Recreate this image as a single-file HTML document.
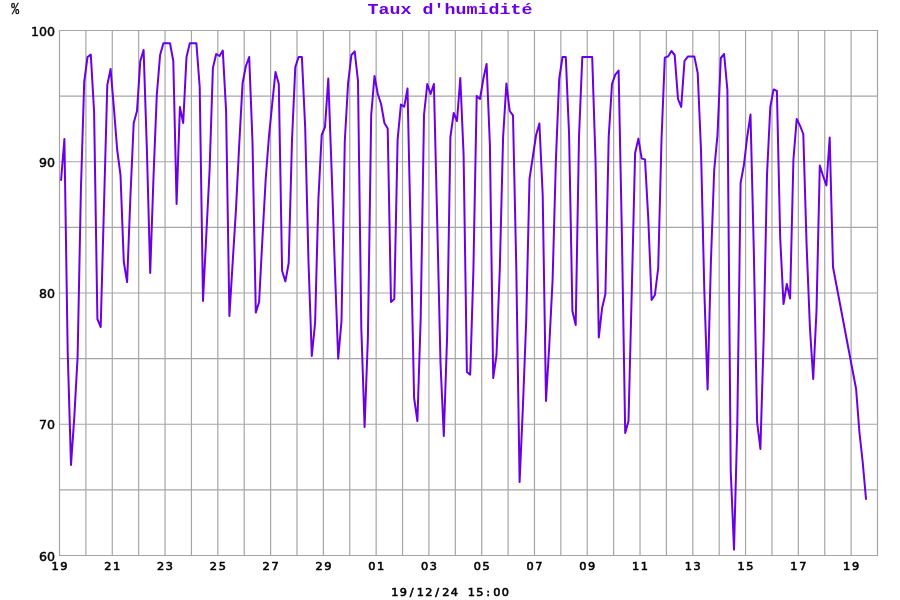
<!DOCTYPE html>
<html lang="fr"><head><meta charset="utf-8"><title>Taux d'humidité</title>
<style>
html,body{margin:0;padding:0;background:#fff;}
body{width:900px;height:600px;overflow:hidden;position:relative;}
svg{position:absolute;left:0;top:0;display:block;will-change:transform;}
.t{font-family:"Liberation Mono","DejaVu Sans Mono",monospace;font-weight:bold;}
.y{font-family:"DejaVu Sans","Liberation Sans",sans-serif;font-size:12.6px;fill:#000;stroke:#000;stroke-width:0.45px;}
.x{font-family:"DejaVu Sans","Liberation Sans",sans-serif;font-size:11.3px;fill:#000;stroke:#000;stroke-width:0.6px;}
</style></head><body>
<svg width="900" height="600" viewBox="0 0 900 600">

<g stroke="#a6a6a6" stroke-width="1.2" fill="none">
<line x1="59.50" y1="30.0" x2="59.50" y2="556.0"/>
<line x1="85.89" y1="30.0" x2="85.89" y2="556.0"/>
<line x1="112.27" y1="30.0" x2="112.27" y2="556.0"/>
<line x1="138.66" y1="30.0" x2="138.66" y2="556.0"/>
<line x1="165.05" y1="30.0" x2="165.05" y2="556.0"/>
<line x1="191.44" y1="30.0" x2="191.44" y2="556.0"/>
<line x1="217.82" y1="30.0" x2="217.82" y2="556.0"/>
<line x1="244.21" y1="30.0" x2="244.21" y2="556.0"/>
<line x1="270.60" y1="30.0" x2="270.60" y2="556.0"/>
<line x1="296.98" y1="30.0" x2="296.98" y2="556.0"/>
<line x1="323.37" y1="30.0" x2="323.37" y2="556.0"/>
<line x1="349.76" y1="30.0" x2="349.76" y2="556.0"/>
<line x1="376.15" y1="30.0" x2="376.15" y2="556.0"/>
<line x1="402.53" y1="30.0" x2="402.53" y2="556.0"/>
<line x1="428.92" y1="30.0" x2="428.92" y2="556.0"/>
<line x1="455.31" y1="30.0" x2="455.31" y2="556.0"/>
<line x1="481.69" y1="30.0" x2="481.69" y2="556.0"/>
<line x1="508.08" y1="30.0" x2="508.08" y2="556.0"/>
<line x1="534.47" y1="30.0" x2="534.47" y2="556.0"/>
<line x1="560.85" y1="30.0" x2="560.85" y2="556.0"/>
<line x1="587.24" y1="30.0" x2="587.24" y2="556.0"/>
<line x1="613.63" y1="30.0" x2="613.63" y2="556.0"/>
<line x1="640.02" y1="30.0" x2="640.02" y2="556.0"/>
<line x1="666.40" y1="30.0" x2="666.40" y2="556.0"/>
<line x1="692.79" y1="30.0" x2="692.79" y2="556.0"/>
<line x1="719.18" y1="30.0" x2="719.18" y2="556.0"/>
<line x1="745.56" y1="30.0" x2="745.56" y2="556.0"/>
<line x1="771.95" y1="30.0" x2="771.95" y2="556.0"/>
<line x1="798.34" y1="30.0" x2="798.34" y2="556.0"/>
<line x1="824.73" y1="30.0" x2="824.73" y2="556.0"/>
<line x1="851.11" y1="30.0" x2="851.11" y2="556.0"/>
<line x1="877.50" y1="30.0" x2="877.50" y2="556.0"/>
<line x1="59.0" y1="30.50" x2="878.0" y2="30.50"/>
<line x1="59.0" y1="96.12" x2="878.0" y2="96.12"/>
<line x1="59.0" y1="161.75" x2="878.0" y2="161.75"/>
<line x1="59.0" y1="227.38" x2="878.0" y2="227.38"/>
<line x1="59.0" y1="293.00" x2="878.0" y2="293.00"/>
<line x1="59.0" y1="358.62" x2="878.0" y2="358.62"/>
<line x1="59.0" y1="424.25" x2="878.0" y2="424.25"/>
<line x1="59.0" y1="489.88" x2="878.0" y2="489.88"/>
<line x1="59.0" y1="555.50" x2="878.0" y2="555.50"/>
</g>
<polyline points="61.1,180.0 64.4,139.0 67.7,352.0 71.0,465.0 74.3,417.0 77.6,357.0 80.9,190.0 84.2,82.0 87.5,57.0 90.8,54.6 94.1,112.0 97.4,319.0 100.7,327.0 104.0,205.0 107.3,85.0 110.6,69.0 113.9,108.0 117.2,150.0 120.5,175.0 123.8,262.0 127.1,282.0 130.4,197.0 133.7,123.0 137.0,111.0 140.3,61.0 143.6,50.0 146.9,150.0 150.2,273.0 153.5,177.0 156.8,95.0 160.1,55.0 163.4,43.3 166.7,43.3 170.0,43.3 173.3,61.0 176.6,204.0 179.9,107.0 183.2,123.0 186.5,57.0 189.8,43.3 193.1,43.3 196.4,43.3 199.7,87.0 203.0,301.0 206.3,235.0 209.6,170.0 212.9,68.0 216.2,54.0 219.5,56.0 222.8,50.6 226.1,111.0 229.4,316.0 232.7,262.0 236.0,209.0 239.3,143.0 242.6,83.0 245.9,66.0 249.2,57.0 252.5,142.0 255.8,312.6 259.1,302.0 262.4,239.0 265.7,179.0 268.9,137.0 272.2,104.0 275.5,72.0 278.8,84.0 282.1,271.0 285.4,281.4 288.7,263.0 292.0,140.0 295.3,67.0 298.6,57.0 301.9,57.0 305.2,128.0 308.5,262.0 311.8,356.0 315.1,323.0 318.4,199.0 321.7,135.0 325.0,127.0 328.3,78.6 331.6,170.0 334.9,269.0 338.2,358.6 341.5,321.0 344.8,141.0 348.1,83.0 351.4,55.0 354.7,51.4 358.0,81.0 361.3,328.0 364.6,427.0 367.9,338.0 371.2,115.0 374.5,76.0 377.8,94.0 381.1,104.0 384.4,123.0 387.7,128.6 391.0,302.0 394.3,299.0 397.6,140.0 400.9,104.6 404.2,106.6 407.5,88.6 410.8,240.0 414.1,398.0 417.4,421.0 420.7,318.0 424.0,115.0 427.3,84.0 430.6,94.0 433.9,84.0 437.2,221.0 440.5,363.0 443.8,436.0 447.1,337.0 450.4,137.0 453.7,113.0 457.0,121.0 460.3,78.0 463.6,155.0 466.9,372.0 470.2,374.6 473.4,270.0 476.7,96.0 480.0,99.0 483.3,79.0 486.6,64.0 489.9,145.0 493.2,378.0 496.5,355.0 499.8,269.0 503.1,137.0 506.4,83.6 509.7,111.0 513.0,115.4 516.3,268.0 519.6,482.0 522.9,407.0 526.2,321.0 529.5,179.0 532.8,157.0 536.1,135.0 539.4,123.4 542.7,195.0 546.0,401.0 549.3,345.0 552.6,280.0 555.9,160.0 559.2,79.0 562.5,57.0 565.8,57.0 569.1,135.0 572.4,311.0 575.7,325.0 579.0,137.0 582.3,57.0 585.6,57.0 588.9,57.0 592.2,57.0 595.5,160.0 598.8,337.4 602.1,308.0 605.4,294.0 608.7,137.0 612.0,84.0 615.3,74.6 618.6,70.6 621.9,235.0 625.2,433.0 628.5,421.0 631.8,290.0 635.1,153.0 638.4,138.6 641.7,158.6 645.0,159.4 648.3,219.0 651.6,300.0 654.9,295.0 658.2,268.0 661.5,140.0 664.8,57.6 668.1,56.4 671.4,51.0 674.7,55.0 678.0,99.0 681.2,107.0 684.5,61.0 687.8,56.6 691.1,56.6 694.4,56.6 697.7,73.0 701.0,150.0 704.3,290.0 707.6,389.4 710.9,262.0 714.2,170.0 717.5,135.0 720.8,58.0 724.1,54.0 727.4,90.0 730.7,470.0 734.0,549.6 737.3,425.0 740.6,183.0 743.9,165.0 747.2,137.0 750.5,114.6 753.8,250.0 757.1,422.0 760.4,449.0 763.7,337.0 767.0,175.0 770.3,107.0 773.6,89.4 776.9,91.0 780.2,238.0 783.5,304.0 786.8,284.0 790.1,298.6 793.4,160.0 796.7,119.0 800.0,125.6 803.3,134.0 806.6,245.0 809.9,327.0 813.2,379.0 816.5,311.0 819.8,165.5 823.1,176.0 826.4,185.5 829.7,137.5 833.0,267.0 856.1,389.0 859.4,432.0 862.7,462.0 866.0,499.0" fill="none" stroke="#6a00e6" stroke-width="2" stroke-linejoin="round" stroke-linecap="round"/>
<text class="t" transform="translate(450 14) scale(1.183 1)" text-anchor="middle" font-size="15.5" fill="#6a00e6">Taux d'humidité</text>
<text transform="translate(15.3 14.2) scale(0.82 1.05)" text-anchor="middle" style="font-family:'Liberation Mono',monospace;font-size:16px;stroke:#000;stroke-width:0.3px">%</text>
<text class="y" x="55" y="35.5" text-anchor="end">100</text>
<text class="y" x="55" y="166.8" text-anchor="end">90</text>
<text class="y" x="55" y="298.0" text-anchor="end">80</text>
<text class="y" x="55" y="429.2" text-anchor="end">70</text>
<text class="y" x="55" y="560.5" text-anchor="end">60</text>
<text class="x" text-anchor="middle" y="569.7" x="55.10 63.90">19</text>
<text class="x" text-anchor="middle" y="569.7" x="107.87 116.67">21</text>
<text class="x" text-anchor="middle" y="569.7" x="160.65 169.45">23</text>
<text class="x" text-anchor="middle" y="569.7" x="213.42 222.22">25</text>
<text class="x" text-anchor="middle" y="569.7" x="266.20 275.00">27</text>
<text class="x" text-anchor="middle" y="569.7" x="318.97 327.77">29</text>
<text class="x" text-anchor="middle" y="569.7" x="371.75 380.55">01</text>
<text class="x" text-anchor="middle" y="569.7" x="424.52 433.32">03</text>
<text class="x" text-anchor="middle" y="569.7" x="477.29 486.09">05</text>
<text class="x" text-anchor="middle" y="569.7" x="530.07 538.87">07</text>
<text class="x" text-anchor="middle" y="569.7" x="582.84 591.64">09</text>
<text class="x" text-anchor="middle" y="569.7" x="635.62 644.42">11</text>
<text class="x" text-anchor="middle" y="569.7" x="688.39 697.19">13</text>
<text class="x" text-anchor="middle" y="569.7" x="741.16 749.96">15</text>
<text class="x" text-anchor="middle" y="569.7" x="793.94 802.74">17</text>
<text class="x" text-anchor="middle" y="569.7" x="846.71 855.51">19</text>
<text class="x" text-anchor="middle" y="595.7" x="394.75 403.25 411.75 420.25 428.75 437.25 445.75 454.25 462.75 471.25 479.75 488.25 496.75 505.25">19/12/24 15:00</text>
</svg></body></html>
